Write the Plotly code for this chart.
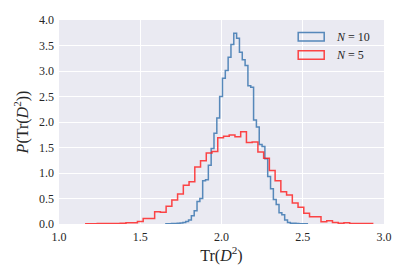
import numpy as np
import plotly.graph_objects as go

# ---- data ----
n10_range = [1.658, 2.528]
n10_density = [0.005, 0.005, 0.01, 0.01, 0.015, 0.02, 0.03, 0.05, 0.08, 0.16,
               0.26, 0.44, 0.50, 0.85, 0.87, 1.15, 1.48, 1.78, 2.08, 2.50,
               2.86, 3.01, 3.27, 3.52, 3.74, 3.64, 3.37, 3.22, 3.11, 2.71,
               2.68, 2.04, 1.90, 1.56, 1.52, 1.28, 0.93, 0.69, 0.48, 0.38,
               0.22, 0.18, 0.08, 0.03, 0.015, 0.015, 0.01, 0.005, 0.005, 0.005]

n5_range = [1.165, 2.930]
n5_density = [0.005, 0.005, 0.008, 0.008, 0.01, 0.012, 0.015, 0.025, 0.025, 0.05,
              0.11, 0.11, 0.24, 0.23, 0.35, 0.47, 0.59, 0.76, 0.83, 1.12,
              1.24, 1.39, 1.42, 1.69, 1.72, 1.745, 1.71, 1.81, 1.60, 1.61,
              1.41, 1.29, 1.05, 0.85, 0.63, 0.57, 0.41, 0.33, 0.21, 0.14,
              0.14, 0.045, 0.065, 0.03, 0.015, 0.025, 0.01, 0.01, 0.008, 0.008]

x_ticks = [1.0, 1.5, 2.0, 2.5, 3.0]
y_ticks = [0.0, 0.5, 1.0, 1.5, 2.0, 2.5, 3.0, 3.5, 4.0]

series = [
    ("<i>N</i> = 10", n10_range, n10_density, "rgba(70,125,180,0.9)"),
    ("<i>N</i> = 5", n5_range, n5_density, "rgba(255,25,25,0.8)"),
]


def step_outline(rng, vals):
    edges = np.linspace(rng[0], rng[1], len(vals) + 1)
    xs = [edges[0]] + list(edges)
    ys = [0.0] + list(vals) + [0.0]
    return xs, ys


fig = go.Figure()
for name, rng, vals, col in series:
    xs, ys = step_outline(rng, vals)
    fig.add_trace(go.Scatter(x=xs, y=ys, mode="lines", line=dict(color=col, width=1.5, shape="hv"),
                             name=name, showlegend=False, hoverinfo="skip"))

# manual legend (rectangle patches like matplotlib)
leg_y = [0.918, 0.828]
for (name, rng, vals, col), yc in zip(series, leg_y):
    fig.add_shape(type="rect", xref="paper", yref="paper", x0=0.736, x1=0.816,
                  y0=yc - 0.021, y1=yc + 0.021, line=dict(color=col, width=1.5),
                  fillcolor="rgba(0,0,0,0)")
    fig.add_annotation(xref="paper", yref="paper", x=0.845, y=yc, text=name, showarrow=False,
                       xanchor="left", yanchor="middle",
                       font=dict(family="Liberation Serif", size=12, color="#262626"))

font = dict(family="Liberation Serif", size=12, color="#262626")
fig.update_layout(
    width=399, height=272,
    margin=dict(l=51, r=23, t=12, b=56, autoexpand=False),
    paper_bgcolor="white", plot_bgcolor="#EAEAF2",
    font=font, showlegend=False,
    xaxis=dict(range=[1.0, 3.0], tickvals=x_ticks, ticktext=[f"{v:.1f}" for v in x_ticks],
               showgrid=True, gridcolor="white", gridwidth=1, zeroline=False, showline=False,
               ticks="", ticklabelstandoff=4, automargin=False,
               title=dict(text="Tr(<i>D</i><sup>2</sup>)", font=dict(family="Liberation Serif", size=16, color="#262626"), standoff=6)),
    yaxis=dict(range=[0.0, 4.0], tickvals=y_ticks, ticktext=[f"{v:.1f}" for v in y_ticks],
               showgrid=True, gridcolor="white", gridwidth=1, zeroline=False, showline=False,
               ticks="", ticklabelstandoff=4, automargin=False,
               title=dict(text="<i>P</i>(Tr(<i>D</i><sup>2</sup>))", font=dict(family="Liberation Serif", size=16, color="#262626"), standoff=6)),
)

fig.write_html("out.html")
